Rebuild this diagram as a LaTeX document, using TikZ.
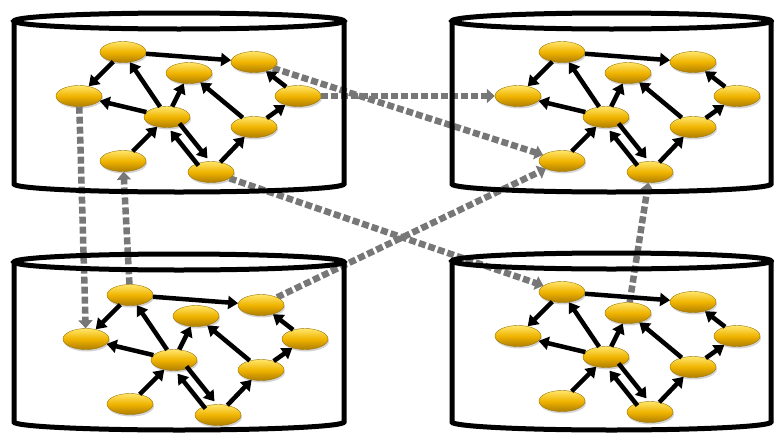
\documentclass[tikz,border=0pt]{standalone}
\usepackage{tikz}
\usetikzlibrary{shapes.geometric}
\usetikzlibrary{arrows.meta}
\usetikzlibrary{shadows}
\usetikzlibrary{backgrounds}
\definecolor{goldtop}{HTML}{FFE66B}
\definecolor{goldmid}{HTML}{F0B400}
\definecolor{goldbot}{HTML}{B07E00}
\definecolor{goldline}{HTML}{9C7400}
\definecolor{linkgray}{HTML}{777777}

\begin{document}
\begin{tikzpicture}[x=1pt,y=-1pt]
    \tikzstyle vertex=[ellipse, minimum width=46pt, minimum height=21pt, inner sep=0pt,
      draw=goldline, thin, top color=goldtop, bottom color=goldbot, middle color=goldmid,
      drop shadow={opacity=0.35, shadow xshift=1pt, shadow yshift=-2pt}]
    \tikzstyle localedge=[line width=4.5pt, black, -{Triangle[length=10pt,width=13pt]}]
    \tikzstyle remoteedge=[line width=6.5pt, linkgray, dash pattern=on 7pt off 3pt,
      -{Triangle[length=8pt,width=14pt]}]
    \tikzstyle drum=[line width=5pt, black]
    \useasboundingbox (0,0) rectangle (774,434);
    % the four partitions, same graph in each
    \foreach \cx/\rx/\t/\b in {179/165/21/184, 611.5/159.5/21/184, 179/165/262/422, 611.5/159.5/261/422} {
      \draw[drum] (\cx,\t) ellipse [x radius=\rx pt, y radius=8pt];
      \draw[drum] (\cx-\rx,\t) -- (\cx-\rx,\b)
        arc [start angle=180, end angle=360, x radius=\rx pt, y radius=8pt] -- (\cx+\rx,\t);
    }
    \foreach \p/\dx/\dy in {a/0/0, b/439/0, c/7/243, d/439/240} {
      \begin{scope}[shift={(\dx,\dy)}]
        \node[vertex] (\p A) at (123,52) {};
        \node[vertex] (\p B) at (254,62) {};
        \node[vertex] (\p C) at (189,73) {};
        \node[vertex] (\p D) at (79,96) {};
        \node[vertex] (\p E) at (298,96) {};
        \node[vertex] (\p F) at (167,117) {};
        \node[vertex] (\p G) at (254,127) {};
        \node[vertex] (\p H) at (123,161) {};
        \node[vertex] (\p I) at (211,172) {};
        \draw[localedge] (\p A) -- (\p B);
        \draw[localedge] (\p A) -- (\p D);
        \draw[localedge] (\p F) -- (\p A);
        \draw[localedge] (\p F) -- (\p D);
        \draw[localedge] (\p F) -- (\p C);
        \draw[localedge] (\p G) -- (\p C);
        \draw[localedge] (\p E) -- (\p B);
        \draw[localedge] (\p G) -- (\p E);
        \draw[localedge] (\p H) -- (\p F);
        \draw[localedge, transform canvas={xshift=4.5pt,yshift=3.6pt}] (\p F) -- (\p I);
        \draw[localedge, transform canvas={xshift=-4.5pt,yshift=-3.6pt}] (\p I) -- (\p F);
        \draw[localedge] (\p I) -- (\p G);
      \end{scope}
    }
    % edges between partitions
    \begin{scope}[on background layer]
      \draw[remoteedge] (aE) -- (bD);
      \draw[remoteedge] (aB) -- (bH);
      \draw[remoteedge] (aI) -- (dA);
      \draw[remoteedge] (cB) -- (bH);
      \draw[remoteedge] (aD) -- (cD);
      \draw[remoteedge] (cA) -- (aH);
      \draw[remoteedge] (dC) -- (bI);
    \end{scope}
\end{tikzpicture}
\end{document}
